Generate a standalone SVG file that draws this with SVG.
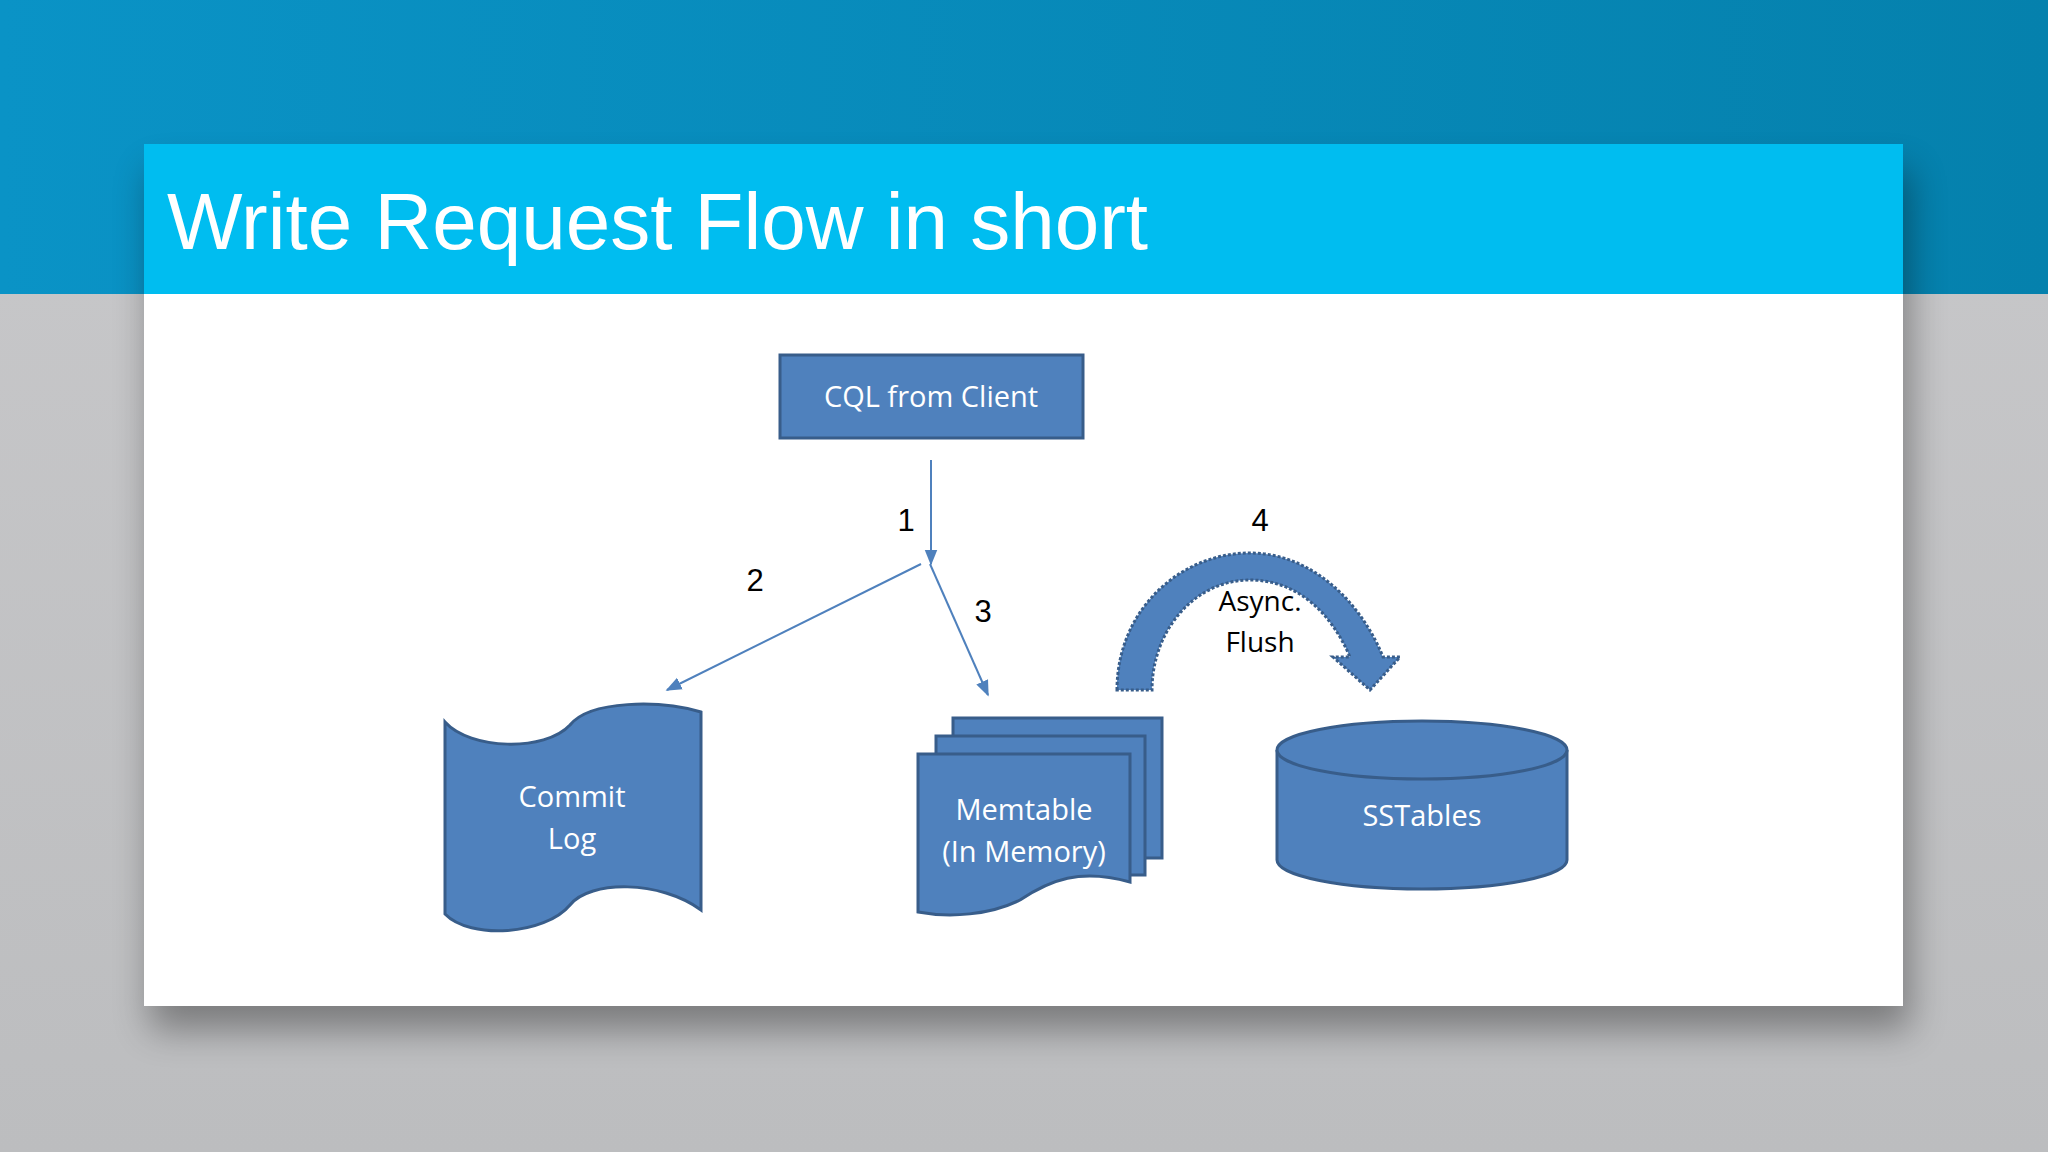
<svg xmlns="http://www.w3.org/2000/svg" width="2048" height="1152" viewBox="0 0 2048 1152">
<defs>
<linearGradient id="top" x1="0" y1="0" x2="1" y2="0"><stop offset="0" stop-color="#0a93c6"/><stop offset="1" stop-color="#0581ad"/></linearGradient>
<linearGradient id="bg" x1="0" y1="0" x2="0" y2="1"><stop offset="0" stop-color="#c9c9cb"/><stop offset="1" stop-color="#bcbdbf"/></linearGradient>
<filter id="sh" x="-10%" y="-10%" width="120%" height="130%"><feGaussianBlur stdDeviation="18"/></filter>
<marker id="ah" viewBox="0 0 10 10" refX="9" refY="5" markerWidth="8" markerHeight="8" orient="auto"><path d="M0,1 L10,5 L0,9 Z" fill="#4f81bd"/></marker>
</defs>
<style>
.shape{fill:#4f81bd;stroke:#385d8a;stroke-width:3}
.wt{font-family:"Open Sans","Noto Sans",sans-serif;font-size:29px;fill:#fff;text-anchor:middle}
.num{font-family:"Liberation Sans",Arial,sans-serif;font-size:31px;fill:#000;text-anchor:middle}
.conn{stroke:#4f81bd;stroke-width:2;fill:none;marker-end:url(#ah)}
</style>
<rect width="2048" height="1152" fill="url(#bg)"/>
<rect width="2048" height="294" fill="url(#top)"/>
<rect x="150" y="170" width="1760" height="860" fill="#000" opacity="0.35" filter="url(#sh)"/>
<rect x="144" y="144" width="1759" height="862" fill="#fff"/>
<rect x="144" y="144" width="1759" height="150" fill="#00bdf0"/>
<text x="167" y="249" font-family="Liberation Sans,Arial,sans-serif" font-size="80" fill="#fff">Write Request Flow in short</text>
<g id="connectors">
<line class="conn" x1="931" y1="460" x2="931" y2="564"/>
<line class="conn" x1="921" y1="564" x2="667" y2="690"/>
<line class="conn" x1="930" y1="564" x2="988" y2="695"/>
<text class="num" x="906" y="531">1</text>
<text class="num" x="755" y="591">2</text>
<text class="num" x="983" y="622">3</text>
</g>
<g id="cql"><rect class="shape" x="780" y="355" width="303" height="83"/><text class="wt" x="931" y="407">CQL from Client</text></g>
<g id="commitlog">
<path class="shape" d="M445,722 C470,750 545,752 570,725 C590,700 660,700 701,712 L701,910 C660,880 590,880 570,905 C545,935 470,940 445,914 Z"/>
<text class="wt" x="572" y="807">Commit</text><text class="wt" x="572" y="849">Log</text>
</g>
<g id="memtable">
<path class="shape" d="M953,718 L1162,718 L1162,858 L953,858 Z"/>
<path class="shape" d="M936,736 L1145,736 L1145,875 L936,875 Z"/>
<path class="shape" d="M918,754 L1130,754 L1130,882 C1080,868 1050,880 1020,900 C990,915 950,918 918,912 Z"/>
<text class="wt" x="1024" y="820">Memtable</text><text class="wt" x="1024" y="862">(In Memory)</text>
</g>
<g id="sstables">
<path class="shape" d="M1277,750 L1277,860 A145,29 0 0 0 1567,860 L1567,750"/>
<ellipse class="shape" cx="1422" cy="750" rx="145" ry="29"/>
<text class="wt" x="1422" y="826">SSTables</text>
</g>
<g id="flush">
<path class="shape" stroke-dasharray="3,2" d="M1117,690 C1117,610 1180,553 1250,553 C1310,553 1360,600 1383,657 L1400,657 L1370,690 L1333,657 L1350,657 C1330,610 1295,580 1250,580 C1195,580 1152,630 1152,690 Z"/>
<text class="num" x="1260" y="531">4</text>
<text x="1260" y="611" font-family="Open Sans,Noto Sans,sans-serif" font-size="28" text-anchor="middle">Async.</text>
<text x="1260" y="652" font-family="Open Sans,Noto Sans,sans-serif" font-size="28" text-anchor="middle">Flush</text>
</g>
</svg>
